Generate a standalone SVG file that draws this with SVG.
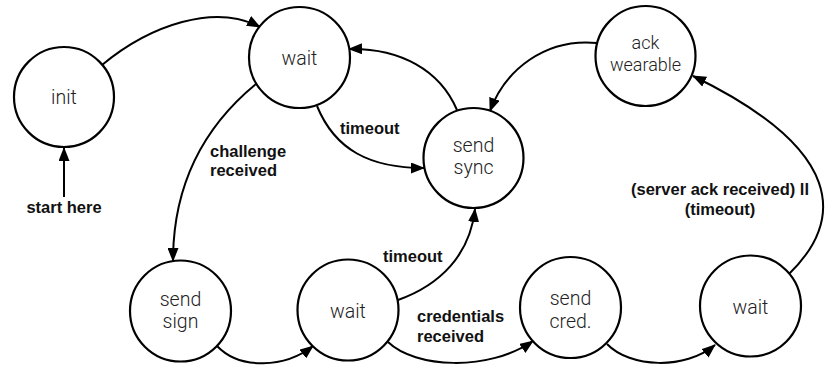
<svg xmlns="http://www.w3.org/2000/svg" width="825" height="367" viewBox="0 0 825 367">
  <style>
    .state { fill: #ffffff; stroke: #000000; stroke-width: 2.2; }
    .name { font-family: Roboto, "Liberation Sans", sans-serif; font-weight: 300; font-size: 19.5px; fill: #222222; text-anchor: middle; }
    .small { font-size: 18px; }
    .edge { fill: none; stroke: #000000; stroke-width: 2; marker-end: url(#head); }
    .label { font-family: "Liberation Sans", Arial, sans-serif; font-weight: bold; font-size: 16.5px; fill: #111111; }
  </style>
  <defs>
    <marker id="head" markerUnits="userSpaceOnUse" markerWidth="14" markerHeight="11" refX="13" refY="5.5" orient="auto">
      <path d="M0,0 L14,5.5 L0,11 z" fill="#000000"/>
    </marker>
  </defs>

  <!-- transitions -->
  <g id="connectors">
    <path class="edge" d="M102,65 C150,25 215,3 260,27"/>
    <path class="edge" d="M64,197 L64,148"/>
    <path class="edge" d="M256,84 C200,130 173,190 173,261"/>
    <path class="edge" d="M317,106 C335,150 370,168 424,168"/>
    <path class="edge" d="M457,110 C440,70 400,48 349,49"/>
    <path class="edge" d="M597,43 C545,38 505,70 490,111"/>
    <path class="edge" d="M217,346 C240,370 285,368 313,346"/>
    <path class="edge" d="M398,300 C440,285 470,255 475,209"/>
    <path class="edge" d="M388,342 C415,368 488,372 533,341"/>
    <path class="edge" d="M607,344 C630,368 685,370 715,345"/>
    <path class="edge" d="M788,275 C845,220 845,150 693,76"/>

    <text class="label" x="64" y="213" text-anchor="middle">start here</text>
    <text class="label" x="210" y="157">challenge</text>
    <text class="label" x="210" y="176">received</text>
    <text class="label" x="340" y="134">timeout</text>
    <text class="label" x="383" y="262">timeout</text>
    <text class="label" x="417" y="322">credentials</text>
    <text class="label" x="417" y="342">received</text>
    <text class="label" x="720" y="195" text-anchor="middle">(server ack received) ll</text>
    <text class="label" x="720" y="215" text-anchor="middle">(timeout)</text>
  </g>

  <!-- states -->
  <g id="init">
    <circle class="state" cx="64" cy="97" r="50"/>
    <text class="name" x="64" y="104">init</text>
  </g>
  <g id="wait-challenge">
    <circle class="state" cx="299.5" cy="57.5" r="50.5"/>
    <text class="name" x="299.5" y="65">wait</text>
  </g>
  <g id="send-sync">
    <circle class="state" cx="473.5" cy="158" r="50"/>
    <text class="name" x="473.5" y="152">send</text>
    <text class="name" x="473.5" y="174">sync</text>
  </g>
  <g id="ack-wearable">
    <circle class="state" cx="645.5" cy="56" r="50"/>
    <text class="name small" x="645.5" y="49">ack</text>
    <text class="name small" x="645.5" y="71">wearable</text>
  </g>
  <g id="send-sign">
    <circle class="state" cx="180.5" cy="311" r="50.5"/>
    <text class="name" x="180.5" y="306">send</text>
    <text class="name" x="180.5" y="328">sign</text>
  </g>
  <g id="wait-credentials">
    <circle class="state" cx="348" cy="310" r="50.5"/>
    <text class="name" x="348" y="318">wait</text>
  </g>
  <g id="send-cred">
    <circle class="state" cx="570.5" cy="307.5" r="50.5"/>
    <text class="name" x="570.5" y="305">send</text>
    <text class="name" x="570.5" y="328">cred.</text>
  </g>
  <g id="wait-server">
    <circle class="state" cx="750.5" cy="306" r="50.5"/>
    <text class="name" x="750.5" y="314">wait</text>
  </g>
</svg>
